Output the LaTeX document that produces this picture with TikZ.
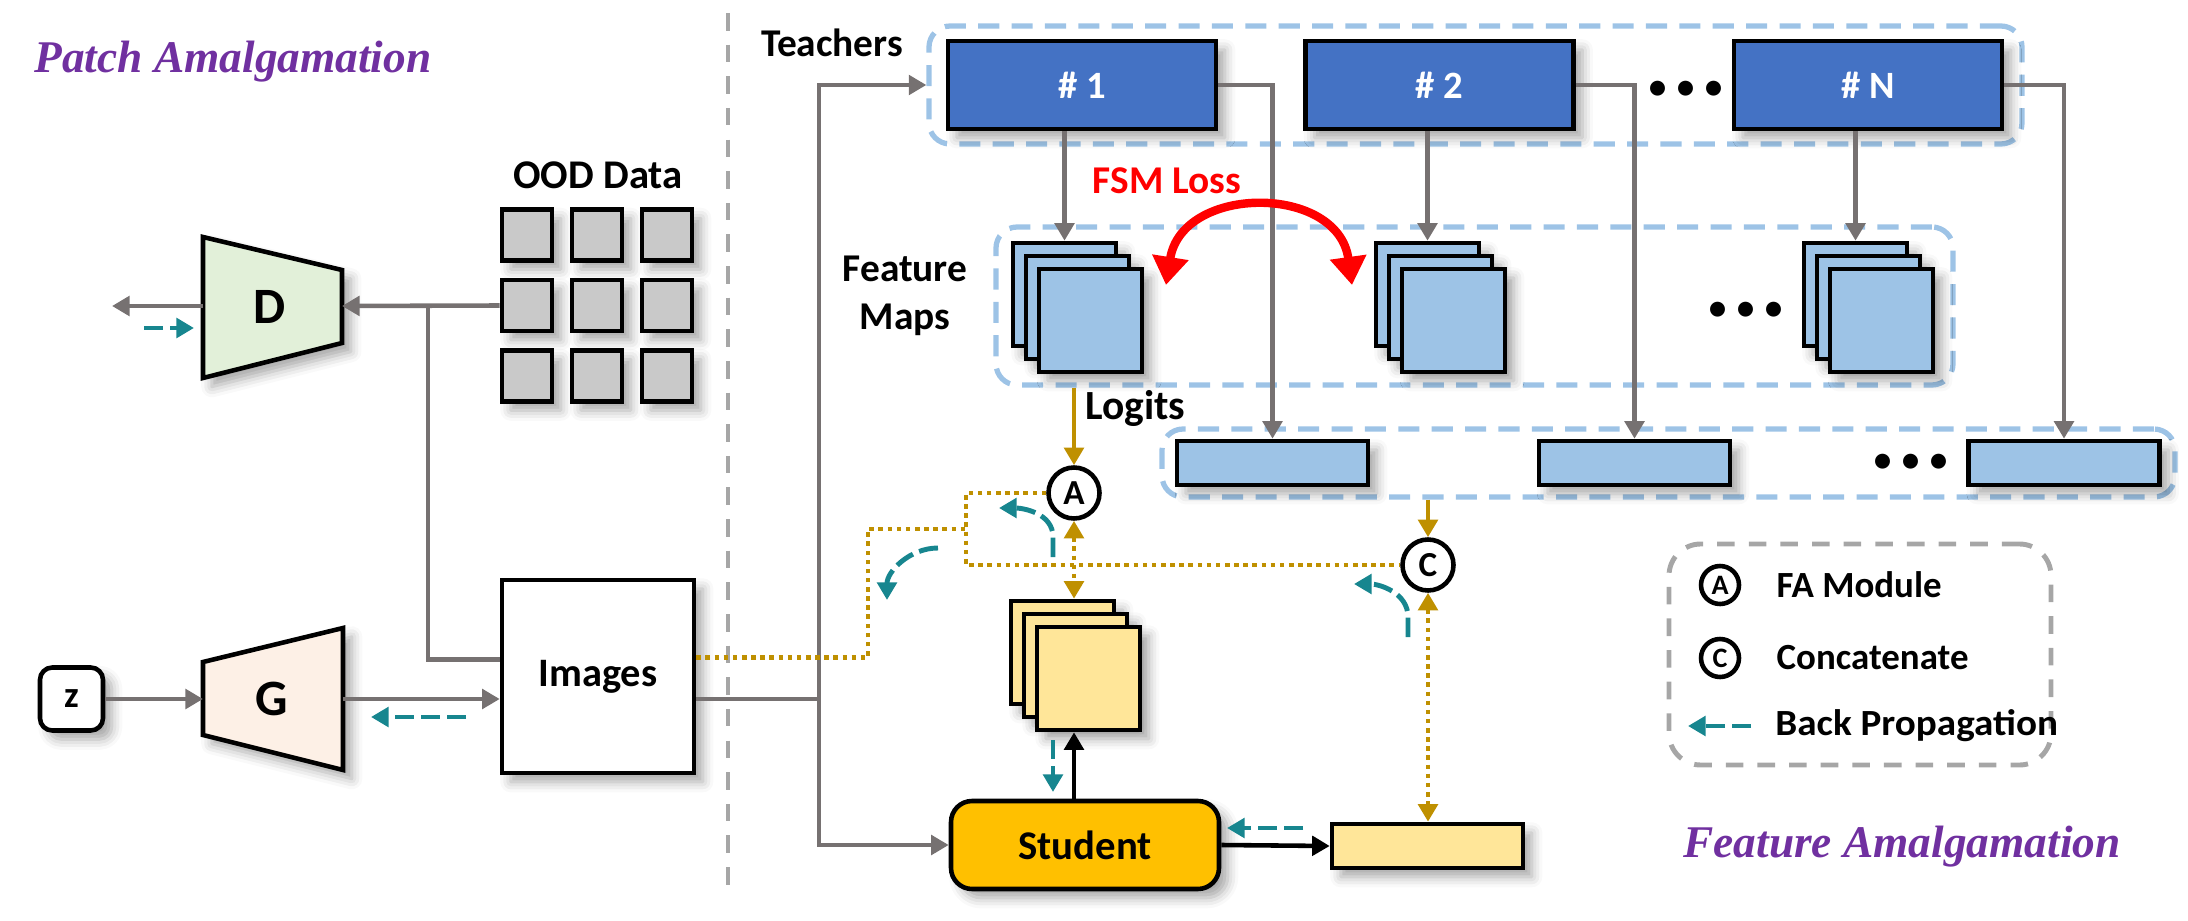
\documentclass[tikz,border=0pt]{standalone}
\usepackage{fontspec}
\setmainfont{Carlito}
\newfontfamily\titlefont{Liberation Serif}
\usetikzlibrary{arrows.meta,calc,positioning,shadows.blur}
\definecolor{teacherblue}{HTML}{4472C4}
\definecolor{fmapblue}{HTML}{9DC3E6}
\definecolor{groupblue}{HTML}{9DC3E6}
\definecolor{oodgray}{HTML}{C9C9C9}
\definecolor{arrowgray}{HTML}{767171}
\definecolor{sepgray}{HTML}{A6A6A6}
\definecolor{goldline}{HTML}{BF9000}
\definecolor{bpteal}{HTML}{17868F}
\definecolor{studentorange}{HTML}{FFC000}
\definecolor{studentlight}{HTML}{FFE699}
\definecolor{dgreen}{HTML}{E2F0D9}
\definecolor{gpeach}{HTML}{FDF0E6}
\definecolor{titlepurple}{HTML}{7030A0}
\definecolor{fsmred}{HTML}{FF0000}
\tikzset{
    box-shadow/.style = {blur shadow={shadow xshift=2.5pt, shadow yshift=-2.5pt, shadow blur radius=3pt, shadow opacity=35}},
    base-box/.style = {draw=black, line width=1.3pt, rectangle, inner sep=0pt, box-shadow},
    teacher-box/.style = {base-box, fill=teacherblue, minimum width=2.68cm, minimum height=0.88cm, text=white, font=\fontsize{11}{13}\selectfont\bfseries},
    fmap-sheet/.style = {base-box, fill=fmapblue, minimum width=1.03cm, minimum height=1.03cm},
    student-sheet/.style = {fmap-sheet, fill=studentlight},
    logit-box/.style = {base-box, fill=fmapblue, minimum width=1.91cm, minimum height=0.44cm},
    ood-cell/.style = {base-box, fill=oodgray, minimum width=0.50cm, minimum height=0.51cm},
    image-box/.style = {base-box, fill=white, minimum width=1.92cm, minimum height=1.93cm, font=\fontsize{11.5}{13.5}\selectfont\bfseries},
    z-box/.style = {base-box, fill=white, rounded corners=3.5pt, minimum size=0.63cm, font=\fontsize{10.5}{12.5}\selectfont\bfseries},
    student-box/.style = {base-box, fill=studentorange, rounded corners=6pt, minimum width=2.68cm, minimum height=0.88cm, font=\fontsize{11.6}{13.5}\selectfont\bfseries},
    op-circle/.style = {draw=black, line width=1.3pt, fill=white, circle, inner sep=0pt, minimum size=0.51cm, font=\fontsize{10}{12}\selectfont\bfseries},
    legend-circle/.style = {op-circle, minimum size=0.38cm, font=\fontsize{8}{10}\selectfont\bfseries},
    group-box/.style = {draw=groupblue, line width=1.5pt, dash pattern=on 6pt off 3.5pt, rounded corners=6pt, rectangle, inner sep=0pt},
    legend-box/.style = {draw=sepgray, line width=1.4pt, dash pattern=on 5pt off 4pt, rounded corners=9pt, rectangle, minimum width=3.82cm, minimum height=2.21cm},
    trap-shape/.style = {draw=black, line width=1.3pt, line join=miter, box-shadow},
    big-label/.style = {font=\fontsize{14.5}{16}\selectfont\bfseries},
    label-text/.style = {font=\fontsize{11.2}{13.8}\selectfont\bfseries},
    legend-text/.style = {font=\fontsize{10.5}{12.5}\selectfont\bfseries},
    dots-text/.style = {font=\fontsize{12}{13}\selectfont},
    title-text/.style = {text=titlepurple, font=\titlefont\bfseries\itshape\fontsize{12.9}{15}\selectfont},
    sep-line/.style = {draw=sepgray, line width=1.1pt, dash pattern=on 5pt off 4pt},
    gray-line/.style = {draw=arrowgray, line width=1.3pt},
    gray-arrow/.style = {gray-line, arrows={-Triangle[length=5pt,width=5.5pt]}},
    black-arrow/.style = {draw=black, line width=1.3pt, arrows={-Triangle[length=5pt,width=5.5pt]}},
    gold-arrow/.style = {draw=goldline, line width=1.3pt, arrows={-Triangle[length=5pt,width=5.5pt]}},
    gold-dots/.style = {draw=goldline, line width=1.4pt, dash pattern=on 1.3pt off 1.3pt},
    gold-tips/.style = {arrows={Triangle[length=5pt,width=5.5pt]-Triangle[length=5pt,width=5.5pt]}},
    bp-arrow/.style = {draw=bpteal, line width=1.4pt, dash pattern=on 5.5pt off 1.9pt, arrows={-Triangle[length=5pt,width=5.5pt]}},
    fsm-arrow/.style = {draw=fsmred, line width=2.4pt, arrows={Triangle[length=8pt,width=10pt]-Triangle[length=8pt,width=10pt]}},
}

\begin{document}
\begin{tikzpicture}
\useasboundingbox (0,0) rectangle (21.88,-9.21);

\node[title-text] (patch-title) at (2.33,-0.62) {Patch Amalgamation};
\node[title-text] (feat-title) at (19.02,-8.47) {Feature Amalgamation};
\draw[sep-line] (7.28,-0.13) -- (7.28,-8.97);

% patch amalgamation
\node[z-box] (z) at (0.715,-6.99) {z};
\draw[trap-shape, fill=dgreen] (2.03,-2.37) -- (3.42,-2.70) -- (3.42,-3.43) -- (2.03,-3.78) -- cycle;
\node[big-label] (D) at (2.70,-3.07) {D};
\draw[trap-shape, fill=gpeach] (2.03,-6.62) -- (3.43,-6.28) -- (3.43,-7.70) -- (2.03,-7.35) -- cycle;
\node[big-label] (G) at (2.72,-6.99) {G};
\coordinate (D-in) at (3.42,-3.06);
\coordinate (D-out) at (2.03,-3.06);
\coordinate (G-in) at (2.03,-6.99);
\coordinate (G-out) at (3.43,-6.99);

\node[image-box] (img) at (5.98,-6.765) {Images};
\foreach \r in {1,2,3}
    \foreach \c in {1,2,3}
        \node[ood-cell] (ood-\r-\c) at ({4.57+0.70*\c},{-1.645-0.705*\r}) {};
\node[label-text, font=\fontsize{11.6}{13.8}\selectfont\bfseries] (ood-label) at (5.98,-1.75) {OOD Data};

\coordinate (d-free) at (1.12,-3.06);
\coordinate (d-join) at (4.28,-3.06);
\coordinate (d-bp-s) at (1.44,-3.28);
\coordinate (d-bp-e) at (1.94,-3.28);
\coordinate (g-bp-s) at (4.66,-7.17);
\coordinate (g-bp-e) at (3.71,-7.17);
\draw[gray-arrow] (ood-2-1.west) -- (D-in);
\draw[gray-arrow] (D-out) -- (d-free);
\draw[bp-arrow] (d-bp-s) -- (d-bp-e);
\draw[gray-line] ([yshift=0.17cm]img.west) -| (d-join);
\draw[gray-arrow] (z.east) -- (G-in);
\draw[gray-arrow] (G-out) -- (img.west |- G-out);
\draw[bp-arrow] (g-bp-s) -- (g-bp-e);

% feature amalgamation
\node[group-box, minimum width=10.93cm, minimum height=1.18cm] (teachers) at (14.755,-0.85) {};
\node[group-box, minimum width=9.57cm, minimum height=1.58cm] (fm-group) at (14.745,-3.06) {};
\node[group-box, minimum width=10.13cm, minimum height=0.68cm] (lg-group) at (16.685,-4.63) {};
\node[label-text] (teachers-label) at (8.32,-0.43) {Teachers};
\node[label-text, align=center] (fmap-label) at (9.05,-2.96) {Feature\\Maps};
\node[label-text, text=fsmred] (fsm-label) at (11.67,-1.81) {FSM Loss};

\node[teacher-box] (t1) at (10.82,-0.85) {\# 1};
\node[teacher-box] (t2) at (14.395,-0.85) {\# 2};
\node[teacher-box] (tN) at (18.68,-0.85) {\# N};
\node[dots-text] (t-dots) at (16.86,-0.91) {\textbullet\,\textbullet\,\textbullet};

\foreach \name/\x in {fm1/10.645, fm2/14.275, fmN/18.555}
    \foreach \k in {0,1,2}
        \node[fmap-sheet] (\name-\k) at ({\x+0.13*\k},{-2.945-0.13*\k}) {};
\node[dots-text] (fm-dots) at (17.46,-3.12) {\textbullet\,\textbullet\,\textbullet};

\node[logit-box] (lg1) at (12.725,-4.63) {};
\node[logit-box] (lg2) at (16.345,-4.63) {};
\node[logit-box] (lgN) at (20.64,-4.63) {};
\node[dots-text] (lg-dots) at (19.11,-4.64) {\textbullet\,\textbullet\,\textbullet};
\node[label-text, font=\fontsize{11.8}{13.8}\selectfont\bfseries, anchor=west] (logits-label) at (10.73,-4.08) {Logits};

\foreach \t/\f in {t1/fm1, t2/fm2, tN/fmN}
    \draw[gray-arrow] (\t.south -| \f-0.north) -- (\f-0.north);
\draw[gray-arrow] (t1.east) -| (lg1.north);
\draw[gray-arrow] (t2.east) -| (lg2.north);
\draw[gray-arrow] (tN.east) -| (lgN.north);

\coordinate (fsm-l) at (11.66,-2.85);
\coordinate (fsm-r) at (13.52,-2.85);
\draw[fsm-arrow] (fsm-l) .. controls (11.82,-1.84) and (13.38,-1.84) .. (fsm-r);

\node[op-circle] (A) at (10.74,-4.93) {A};
\node[op-circle] (C) at (14.28,-5.65) {C};
\foreach \k in {0,1,2}
    \node[student-sheet] (sfm-\k) at ({10.625+0.13*\k},{-6.525-0.13*\k}) {};
\node[student-box] (student) at (10.85,-8.45) {Student};
\node[base-box, fill=studentlight, minimum width=1.91cm, minimum height=0.44cm] (slg) at (14.275,-8.46) {};

\coordinate (split) at (8.19,-6.99);
\draw[gray-line] (img.east |- split) -- (split);
\draw[gray-arrow] (split) |- (teachers.west);
\draw[gray-arrow] (split) |- (student.west);

\coordinate (loop-x) at (9.66,-5.29);
\draw[gold-arrow] (fm-group.south -| A) -- (A.north);
\draw[gold-arrow] (lg-group.south -| C) -- (C.north);
\draw[gold-dots, gold-tips] (A.south) -- (sfm-0.north -| A);
\draw[gold-dots, gold-tips] (C.south) -- (slg.north -| C);
\draw[gold-dots] (A.west) -| (loop-x |- C.west) -- (C.west);
\draw[gold-dots] ([yshift=0.19cm]img.east) -| (8.68,-5.29) -- (loop-x);

\draw[black-arrow] (student.north -| A) -- (sfm-2.south -| A);
\draw[black-arrow] (student.east) -- (slg.west);

\coordinate (bp1-s) at (10.53,-5.57);
\coordinate (bp1-e) at (9.99,-5.08);
\coordinate (bp2-s) at (9.38,-5.48);
\coordinate (bp2-e) at (8.87,-6.00);
\coordinate (bp3-s) at (14.08,-6.37);
\coordinate (bp3-e) at (13.54,-5.84);
\coordinate (bp4-s) at (10.53,-7.40);
\coordinate (bp4-e) at (10.53,-7.92);
\coordinate (bp5-s) at (13.03,-8.28);
\coordinate (bp5-e) at (12.27,-8.28);
\draw[bp-arrow] (bp1-s) -- ++(0,0.2) to[out=90,in=0] (bp1-e);
\draw[bp-arrow] (bp2-s) to[out=180,in=90] (bp2-e);
\draw[bp-arrow] (bp3-s) -- ++(0,0.2) to[out=90,in=0] (bp3-e);
\draw[bp-arrow] (bp4-s) -- (bp4-e);
\draw[bp-arrow] (bp5-s) -- (bp5-e);

% legend
\node[legend-box] (legend) at (18.60,-6.545) {};
\node[legend-circle] (leg-A) at (17.20,-5.85) {A};
\node[legend-circle] (leg-C) at (17.20,-6.58) {C};
\node[legend-text, right=0.23cm of leg-A] (leg-A-text) {FA Module};
\node[legend-text, right=0.23cm of leg-C] (leg-C-text) {Concatenate};
\coordinate (leg-bp-s) at (17.51,-7.26);
\coordinate (leg-bp-e) at (16.88,-7.26);
\draw[bp-arrow] (leg-bp-s) -- (leg-bp-e);
\node[legend-text, anchor=west] (leg-bp-text) at (17.63,-7.26) {\scalebox{1.06}[1]{Back Propagation}};
\end{tikzpicture}
\end{document}
